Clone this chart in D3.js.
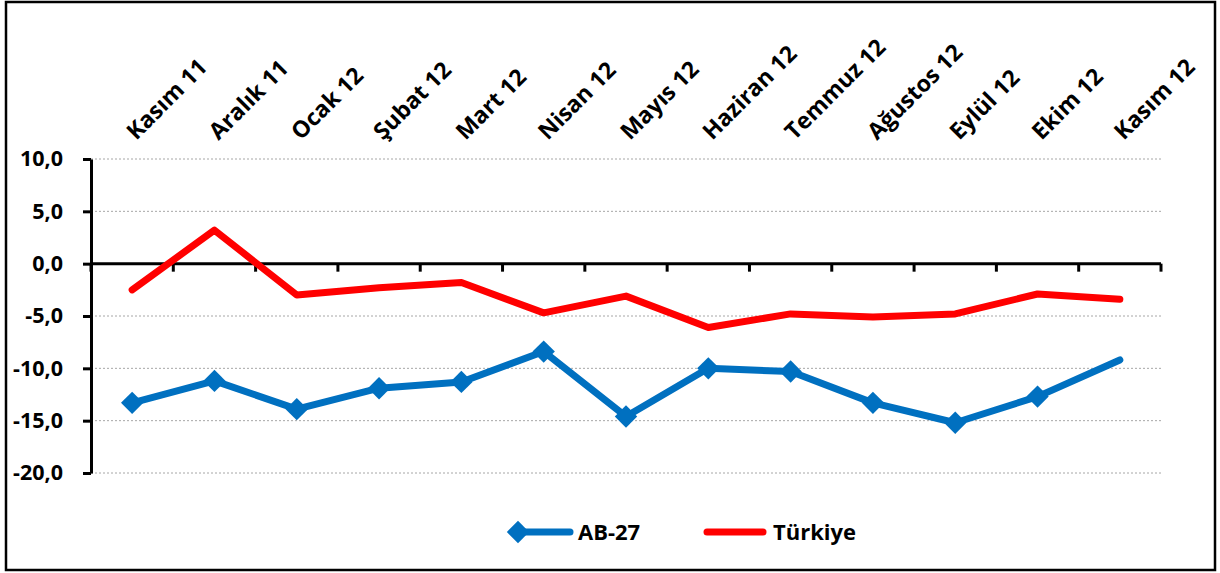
<!DOCTYPE html>
<html>
<head>
<meta charset="utf-8">
<script src="https://cdn.jsdelivr.net/npm/d3@7"></script>
<style>
  body { margin: 0; background: #fff; }
  text { font-family: "Open Sans", sans-serif; font-weight: bold; fill: #000; }
</style>
</head>
<body>
<div id="chart"></div>
<script>
// months on the x axis
var months = ["Kasım 11", "Aralık 11", "Ocak 12", "Şubat 12", "Mart 12", "Nisan 12", "Mayıs 12",
    "Haziran 12", "Temmuz 12", "Ağustos 12", "Eylül 12", "Ekim 12", "Kasım 12"];

// series values
var ab27 = [-13.3, -11.2, -13.9, -11.9, -11.3, -8.4, -14.6, -10.0, -10.3, -13.3, -15.2, -12.7, -9.2];
var turkiye = [-2.5, 3.2, -3.0, -2.3, -1.8, -4.7, -3.1, -6.1, -4.8, -5.1, -4.8, -2.9, -3.4];

// last AB-27 point has no marker in the original
var ab27Markers = [1, 1, 1, 1, 1, 1, 1, 1, 1, 1, 1, 1, 0];

var yTicks = [10, 5, 0, -5, -10, -15, -20];
var seriesNames = ["AB-27", "Türkiye"];

var W = 1220, H = 573;
var margin = { left: 91, right: 59, top: 159, bottom: 100 };
var width = W - margin.left - margin.right;
var height = H - margin.top - margin.bottom;

var svg = d3.select("#chart").append("svg")
    .attr("width", W)
    .attr("height", H);

// outer frame
svg.append("rect")
    .attr("x", 6).attr("y", 2)
    .attr("width", 1209).attr("height", 568)
    .attr("fill", "#fff")
    .attr("stroke", "#000")
    .attr("stroke-width", 2.5);

var g = svg.append("g")
    .attr("class", "main-group")
    .attr("transform", "translate(" + margin.left + "," + margin.top + ")");

var x = d3.scaleBand()
    .domain(months)
    .range([0, width]);

var y = d3.scaleLinear()
    .domain([-20, 10])
    .range([height, 0]);

var fmt = function(d) { return d3.format(".1f")(d).replace(".", ",").replace("−", "-"); };

// gridlines (dotted)
g.append("g")
    .attr("class", "grid")
    .selectAll("line")
    .data(yTicks.filter(function(d) { return d != 0; }))
    .enter()
    .append("line")
    .attr("x1", 0)
    .attr("x2", width)
    .attr("y1", function(d) { return y(d); })
    .attr("y2", function(d) { return y(d); })
    .attr("stroke", "#a6a6a6")
    .attr("stroke-width", 1)
    .attr("stroke-dasharray", "2,2");

// y axis
var yAxis = g.append("g")
    .attr("class", "myYaxis")
    .call(d3.axisLeft(y).tickValues(yTicks).tickFormat(fmt).tickSize(8).tickSizeOuter(0).tickPadding(20));
yAxis.select(".domain").attr("stroke", "#000").attr("stroke-width", 3);
yAxis.selectAll(".tick line").attr("stroke", "#000").attr("stroke-width", 3);
yAxis.selectAll(".tick text")
    .style("font-size", "21.5px")
    .style("font-family", "'Open Sans', sans-serif")
    .style("font-weight", "bold")
    .attr("fill", "#000");

// x axis at zero, ticks at band boundaries
var xAxisG = g.append("g")
    .attr("class", "myXaxis")
    .attr("transform", "translate(0," + y(0) + ")");
xAxisG.append("line")
    .attr("x1", 0).attr("x2", width)
    .attr("stroke", "#000").attr("stroke-width", 3);
xAxisG.selectAll("line.tk")
    .data(months.concat(["end"]))
    .enter()
    .append("line")
    .attr("class", "tk")
    .attr("x1", function(d, i) { return i * x.step(); })
    .attr("x2", function(d, i) { return i * x.step(); })
    .attr("y1", 0)
    .attr("y2", 8)
    .attr("stroke", "#000")
    .attr("stroke-width", 3);

// month labels at the top, rotated
g.append("g")
    .selectAll("text")
    .data(months)
    .enter()
    .append("text")
    .attr("transform", function(d) {
        return "translate(" + (x(d) + x.bandwidth() / 2 + 4) + "," + (-18) + ") rotate(-45)";
    })
    .attr("text-anchor", "start")
    .style("font-size", "23px")
    .text(function(d) { return d; });

var line = d3.line()
    .x(function(d, i) { return x(months[i]) + x.bandwidth() / 2; })
    .y(function(d) { return y(d); });

// Türkiye
g.append("path")
    .datum(turkiye)
    .attr("fill", "none")
    .attr("stroke", "#ff0000")
    .attr("stroke-width", 7)
    .attr("stroke-linejoin", "round")
    .attr("stroke-linecap", "round")
    .attr("d", line);

// AB-27
g.append("path")
    .datum(ab27)
    .attr("fill", "none")
    .attr("stroke", "#0070c0")
    .attr("stroke-width", 7)
    .attr("stroke-linejoin", "round")
    .attr("stroke-linecap", "round")
    .attr("d", line);

var diamond = d3.symbol().type(d3.symbolSquare).size(250);

g.selectAll("path.mk")
    .data(ab27.map(function(v, i) { return { v: v, i: i, m: ab27Markers[i] }; }).filter(function(d) { return d.m; }))
    .enter()
    .append("path")
    .attr("class", "mk")
    .attr("d", diamond)
    .attr("fill", "#0070c0")
    .attr("transform", function(d) {
        return "translate(" + (x(months[d.i]) + x.bandwidth() / 2) + "," + y(d.v) + ") rotate(45)";
    });

// legend
var legend = svg.append("g").attr("transform", "translate(0,532)");
var lg1 = legend.append("g").attr("transform", "translate(515,0)");
lg1.append("line").attr("x1", 0).attr("x2", 55)
    .attr("stroke", "#0070c0").attr("stroke-width", 7).attr("stroke-linecap", "round");
lg1.append("path").attr("d", diamond).attr("fill", "#0070c0").attr("transform", "translate(3,0) rotate(45)");
lg1.append("text").attr("x", 63).attr("y", 8).style("font-size", "22px").text(seriesNames[0]);

var lg2 = legend.append("g").attr("transform", "translate(707,0)");
lg2.append("line").attr("x1", 0).attr("x2", 56)
    .attr("stroke", "#ff0000").attr("stroke-width", 7).attr("stroke-linecap", "round");
lg2.append("text").attr("x", 66).attr("y", 8).style("font-size", "22px").text(seriesNames[1]);
</script>
</body>
</html>
